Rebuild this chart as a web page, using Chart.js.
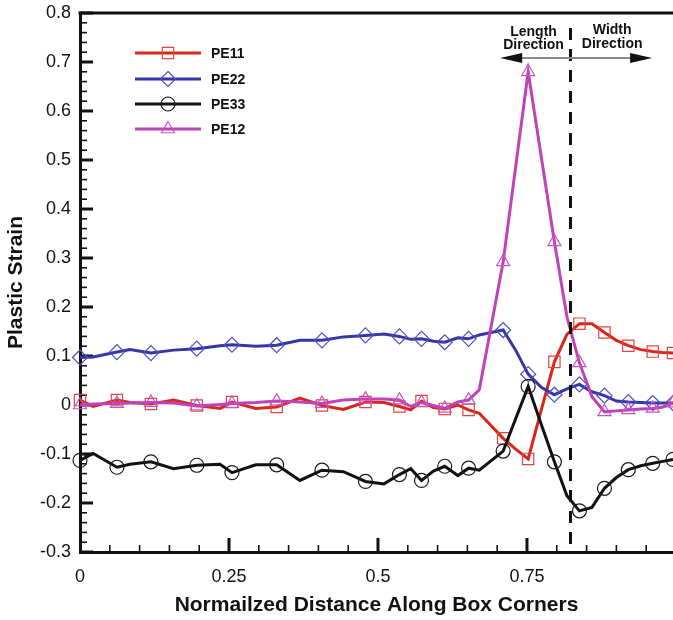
<!DOCTYPE html>
<html>
<head>
<meta charset="utf-8">
<title>Plastic Strain along box corners</title>
<script src="https://cdn.jsdelivr.net/npm/chart.js@4/dist/chart.umd.min.js"></script>
<style>
  html, body { margin: 0; padding: 0; background: #ffffff; }
  #wrap { width: 673px; height: 620px; }
</style>
</head>
<body>
<div id="wrap"><canvas id="chart" width="673" height="620"></canvas></div>
<script>
// Normalized distance of each node along the box corners
const distance = [0.000, 0.022, 0.062, 0.084, 0.119, 0.157, 0.196, 0.235, 0.255, 0.295,
                  0.330, 0.369, 0.406, 0.442, 0.479, 0.510, 0.536, 0.555, 0.573, 0.593,
                  0.612, 0.634, 0.652, 0.670, 0.710, 0.731, 0.752, 0.774, 0.796, 0.817,
                  0.838, 0.859, 0.880, 0.900, 0.920, 0.941, 0.961, 0.978, 0.995];

// Plastic strain components at each node
const pe11 = [0.010, -0.003, 0.010, 0.005, 0.002, 0.010, -0.001, -0.007, 0.006, -0.007,
              -0.004, 0.014, -0.001, -0.009, 0.006, 0.005, -0.003, -0.010, 0.008, -0.005,
              -0.008, 0.000, -0.010, -0.017, -0.068, -0.090, -0.110, -0.010, 0.088, 0.144,
              0.166, 0.166, 0.148, 0.132, 0.121, 0.113, 0.109, 0.107, 0.106];
const pe22 = [0.097, 0.098, 0.108, 0.113, 0.106, 0.112, 0.115, 0.121, 0.123, 0.120,
              0.122, 0.132, 0.132, 0.139, 0.142, 0.145, 0.140, 0.134, 0.135, 0.130,
              0.128, 0.137, 0.135, 0.143, 0.153, 0.112, 0.063, 0.036, 0.021, 0.033,
              0.042, 0.027, 0.019, 0.008, 0.006, 0.005, 0.004, 0.004, 0.004];
const pe33 = [-0.113, -0.099, -0.127, -0.121, -0.116, -0.130, -0.123, -0.121, -0.138, -0.122,
              -0.122, -0.154, -0.133, -0.136, -0.156, -0.161, -0.142, -0.130, -0.154, -0.135,
              -0.125, -0.144, -0.129, -0.133, -0.094, -0.028, 0.038, -0.040, -0.116, -0.185,
              -0.216, -0.209, -0.170, -0.148, -0.132, -0.124, -0.119, -0.115, -0.111];
const pe12 = [0.000, 0.002, 0.003, 0.004, 0.005, 0.004, -0.002, 0.001, 0.003, 0.005,
              0.008, 0.006, 0.003, 0.010, 0.012, 0.012, 0.010, -0.003, 0.005, -0.001,
              -0.007, 0.006, 0.010, 0.031, 0.292, 0.486, 0.680, 0.506, 0.333, 0.180,
              0.086, 0.017, -0.014, -0.012, -0.010, -0.008, -0.007, -0.004, 0.004];

// Axis ticks and their labels
const xTicks = [0, 0.25, 0.5, 0.75];
const xTickLabels = ['0', '0.25', '0.5', '0.75'];
const yTicks = [-0.3, -0.2, -0.1, 0, 0.1, 0.2, 0.3, 0.4, 0.5, 0.6, 0.7, 0.8];
const yTickLabels = ['-0.3', '-0.2', '-0.1', '0', '0.1', '0.2', '0.3', '0.4', '0.5', '0.6', '0.7', '0.8'];

// Boundary between the length and width directions
const directionSplit = 0.823;

const FONT = '"Liberation Sans", Arial, Helvetica, sans-serif';

function series(label, values, lineColor, markColor, style, radius, order) {
  return {
    label,
    data: distance.map((x, i) => ({ x, y: values[i] })),
    borderColor: lineColor,
    borderWidth: 3,
    tension: 0,
    pointStyle: style,
    pointRadius: distance.map((_, i) => (i % 2 === 0 ? radius : 0)),
    pointHoverRadius: 0,
    pointBorderColor: markColor,
    pointBackgroundColor: 'rgba(0,0,0,0)',
    pointBorderWidth: 1.2,
    clip: false,
    order
  };
}

const datasets = [
  series('PE11', pe11, '#d9261c', '#e0463e', 'rect', 8, 3),
  series('PE22', pe22, '#3636a6', '#4b50c6', 'rectRot', 7.5, 2),
  series('PE33', pe33, '#111111', '#1a1a1a', 'circle', 7, 1),
  series('PE12', pe12, '#c042b8', '#c655c4', 'triangle', 7.5, 0)
];

// Marker outlines for the legend samples
function markerPath(ctx, style, r, x, y) {
  ctx.beginPath();
  if (style === 'rect') {
    const s = r * Math.SQRT1_2;
    ctx.rect(x - s, y - s, 2 * s, 2 * s);
  } else if (style === 'rectRot') {
    ctx.moveTo(x, y - r); ctx.lineTo(x + r, y); ctx.lineTo(x, y + r); ctx.lineTo(x - r, y); ctx.closePath();
  } else if (style === 'circle') {
    ctx.arc(x, y, r, 0, Math.PI * 2);
  } else if (style === 'triangle') {
    const h = r * Math.cos(Math.PI / 6);
    ctx.moveTo(x, y - r); ctx.lineTo(x + h, y + r / 2); ctx.lineTo(x - h, y + r / 2); ctx.closePath();
  }
}

// Inward minor/major ticks and the top frame line
const frameTicks = {
  id: 'frameTicks',
  beforeDatasetsDraw(chart) {
    const { ctx, chartArea: a, scales: { x, y } } = chart;
    ctx.save();
    ctx.strokeStyle = '#111';
    for (let k = -15; k <= 40; k++) {
      const major = k % 5 === 0;
      const py = y.getPixelForValue(k * 0.02);
      ctx.lineWidth = major ? 3 : 1.6;
      ctx.beginPath();
      ctx.moveTo(a.left, py);
      ctx.lineTo(a.left + (major ? 13 : 7), py);
      ctx.stroke();
    }
    for (let k = 1; k <= 19; k++) {
      const major = k % 5 === 0;
      const px = x.getPixelForValue(k * 0.05);
      if (px > a.right) continue;
      ctx.lineWidth = major ? 3 : 1.6;
      ctx.beginPath();
      ctx.moveTo(px, a.bottom);
      ctx.lineTo(px, a.bottom - (major ? 14 : 7));
      ctx.stroke();
    }
    ctx.lineWidth = 3;
    ctx.beginPath();
    ctx.moveTo(a.left - 1.5, a.top);
    ctx.lineTo(a.right + 2, a.top);
    ctx.stroke();
    ctx.restore();
  }
};

// Dashed divider, direction arrows and the legend
const annotations = {
  id: 'annotations',
  afterDatasetsDraw(chart) {
    const { ctx, chartArea: a, scales: { x } } = chart;
    ctx.save();

    const dx = x.getPixelForValue(directionSplit);
    ctx.strokeStyle = '#111';
    ctx.lineWidth = 3;
    ctx.setLineDash([12, 9]);
    ctx.beginPath();
    ctx.moveTo(dx, 28);
    ctx.lineTo(dx, a.bottom);
    ctx.stroke();
    ctx.setLineDash([]);

    const ay = 58;
    const leftTip = x.getPixelForValue(0.705);
    const rightTip = x.getPixelForValue(0.960);
    ctx.strokeStyle = '#8a8a8a';
    ctx.lineWidth = 2;
    ctx.beginPath();
    ctx.moveTo(leftTip + 18, ay);
    ctx.lineTo(rightTip - 18, ay);
    ctx.stroke();
    ctx.fillStyle = '#111';
    ctx.beginPath();
    ctx.moveTo(leftTip, ay); ctx.lineTo(leftTip + 22, ay - 5); ctx.lineTo(leftTip + 22, ay + 5); ctx.closePath();
    ctx.fill();
    ctx.beginPath();
    ctx.moveTo(rightTip, ay); ctx.lineTo(rightTip - 22, ay - 5); ctx.lineTo(rightTip - 22, ay + 5); ctx.closePath();
    ctx.fill();

    ctx.font = 'bold 14px ' + FONT;
    ctx.textAlign = 'center';
    ctx.textBaseline = 'middle';
    ctx.fillStyle = '#111';
    const lx = x.getPixelForValue(0.761);
    const wx = x.getPixelForValue(0.893);
    ctx.fillText('Length', lx, 32);
    ctx.fillText('Direction', lx, 45);
    ctx.fillText('Width', wx, 30);
    ctx.fillText('Direction', wx, 44);

    // legend
    const rows = [53, 79, 104, 129];
    chart.data.datasets.forEach((ds, i) => {
      const ry = rows[i];
      ctx.strokeStyle = ds.borderColor;
      ctx.lineWidth = 3;
      ctx.beginPath();
      ctx.moveTo(135, ry);
      ctx.lineTo(201, ry);
      ctx.stroke();
      const r = ds.pointRadius[0];
      ctx.strokeStyle = ds.pointBorderColor;
      ctx.lineWidth = 1.2;
      markerPath(ctx, ds.pointStyle, r, 168, ry);
      ctx.stroke();
      ctx.fillStyle = '#111';
      ctx.textAlign = 'left';
      ctx.font = 'bold 14px ' + FONT;
      ctx.fillText(ds.label, 211, ry + 1);
    });
    ctx.restore();
  }
};

new Chart(document.getElementById('chart'), {
  type: 'line',
  data: { datasets },
  options: {
    responsive: false,
    animation: false,
    events: [],
    layout: { autoPadding: false, padding: { top: 13, left: 0, right: 0, bottom: 0 } },
    plugins: { legend: { display: false }, tooltip: { enabled: false } },
    scales: {
      x: {
        type: 'linear',
        min: 0,
        max: 0.995,
        afterFit(scale) {
          scale.height = 68;
          scale.paddingLeft = 0;
          scale.paddingRight = 0;
        },
        afterBuildTicks(scale) { scale.ticks = xTicks.map(v => ({ value: v })); },
        grid: { display: false, drawTicks: false },
        border: { display: true, color: '#111', width: 3 },
        ticks: {
          padding: 14,
          color: '#111',
          font: { family: FONT, size: 18 },
          maxRotation: 0,
          callback: (v) => xTickLabels[xTicks.indexOf(v)]
        },
        title: {
          display: true,
          text: 'Normailzed Distance Along Box Corners',
          color: '#111',
          font: { family: FONT, size: 21, weight: 'bold' },
          padding: { top: 0, bottom: 2 }
        }
      },
      y: {
        type: 'linear',
        min: -0.3,
        max: 0.8,
        afterFit(scale) {
          scale.width = 80;
          scale.paddingTop = 0;
          scale.paddingBottom = 0;
        },
        afterBuildTicks(scale) { scale.ticks = yTicks.map(v => ({ value: v })); },
        grid: { display: false, drawTicks: false },
        border: { display: true, color: '#111', width: 3 },
        ticks: {
          padding: 9,
          color: '#111',
          font: { family: FONT, size: 18 },
          callback: (v) => yTickLabels[yTicks.findIndex(t => Math.abs(t - v) < 1e-9)]
        },
        title: {
          display: true,
          text: 'Plastic Strain',
          color: '#111',
          font: { family: FONT, size: 21, weight: 'bold' },
          padding: { top: 4, bottom: 0 }
        }
      }
    }
  },
  plugins: [frameTicks, annotations]
});
</script>
</body>
</html>
